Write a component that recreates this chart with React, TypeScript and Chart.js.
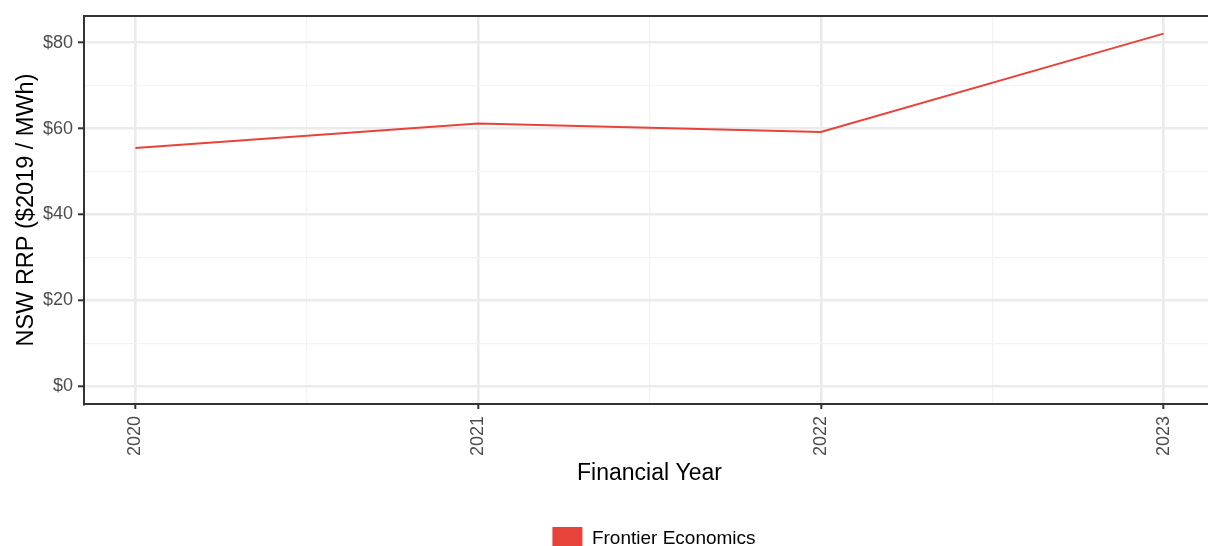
import React, { useEffect, useRef } from "react";
import { Chart, registerables } from "chart.js";

Chart.register(...registerables);

const years = [2020, 2021, 2022, 2023];
const prices = [55.5, 61.2, 59.2, 82.1];
const yTickValues = [0, 10, 20, 30, 40, 50, 60, 70, 80];
const seriesLabel = "Frontier Economics";
const xTitle = "Financial Year";
const yTitle = "NSW RRP ($2019 / MWh)";

const RED = "#E8433A";
const GRID_MAJOR = "#EBEBEB";
const GRID_MINOR = "#F3F3F3";
const DARK = "#333333";
const TICK_TEXT = "#4D4D4D";

const frameTop = {
  id: "frameTop",
  afterDatasetsDraw(chart: any) {
    const { ctx, chartArea } = chart;
    ctx.save();
    ctx.strokeStyle = DARK;
    ctx.lineWidth = 2;
    ctx.beginPath();
    ctx.moveTo(chartArea.left - 1, chartArea.top);
    ctx.lineTo(chartArea.right + 1, chartArea.top);
    ctx.moveTo(chartArea.right, chartArea.top);
    ctx.lineTo(chartArea.right, chartArea.bottom);
    ctx.stroke();
    ctx.restore();
  },
};

export default function App() {
  const ref = useRef<HTMLCanvasElement | null>(null);

  useEffect(() => {
    if (!ref.current) return;
    Chart.defaults.font.family = "'Liberation Sans', Arial, sans-serif";
    const xTicks: number[] = [];
    years.forEach((y, i) => {
      xTicks.push(y);
      if (i < years.length - 1) xTicks.push((y + years[i + 1]) / 2);
    });
    const chart = new Chart(ref.current, {
      type: "line",
      data: {
        datasets: [
          {
            label: seriesLabel,
            data: years.map((y, i) => ({ x: y, y: prices[i] })),
            borderColor: RED,
            backgroundColor: RED,
            borderWidth: 2,
            pointRadius: 0,
            tension: 0,
          },
        ],
      },
      options: {
        responsive: false,
        animation: false,
        devicePixelRatio: 1,
        layout: { padding: { top: 16, left: 0, right: 0, bottom: 0 } },
        plugins: {
          tooltip: { enabled: false },
          legend: {
            position: "bottom",
            labels: {
              boxWidth: 30,
              boxHeight: 24,
              color: "#000000",
              font: { size: 19 },
              padding: 10,
              generateLabels: (c: any) =>
                Chart.defaults.plugins.legend.labels
                  .generateLabels(c)
                  .map((l: any) => ({ ...l, lineWidth: 0, fillStyle: RED })),
            },
          },
        },
        scales: {
          x: {
            type: "linear",
            min: 2019.85,
            max: 2023.15,
            afterBuildTicks: (s: any) => {
              s.ticks = xTicks.map((v) => ({ value: v }));
            },
            afterFit: (s: any) => {
              s.height = 113;
            },
            ticks: {
              autoSkip: false,
              minRotation: 90,
              maxRotation: 90,
              padding: 7,
              color: TICK_TEXT,
              font: { size: 18 },
              callback: (v: any) => (Number.isInteger(v) ? String(v) : ""),
            },
            grid: {
              color: (c: any) => (Number.isInteger(c.tick?.value) ? GRID_MAJOR : GRID_MINOR),
              lineWidth: (c: any) => (Number.isInteger(c.tick?.value) ? 2.6 : 1.3),
              tickLength: 5,
              tickColor: (c: any) => (Number.isInteger(c.tick?.value) ? DARK : "rgba(0,0,0,0)"),
              tickWidth: 2,
            },
            border: { display: true, color: DARK, width: 2 },
            title: {
              display: true,
              text: xTitle,
              color: "#000000",
              font: { size: 23 },
              padding: { top: 0, bottom: 30 },
            },
          },
          y: {
            type: "linear",
            min: -4.1,
            max: 86.2,
            afterBuildTicks: (s: any) => {
              s.ticks = yTickValues.map((v) => ({ value: v }));
            },
            afterFit: (s: any) => {
              s.width = 84;
            },
            ticks: {
              padding: 5,
              color: TICK_TEXT,
              font: { size: 18 },
              callback: (v: any) => (v % 20 === 0 ? "$" + v : ""),
            },
            grid: {
              color: (c: any) => (c.tick?.value % 20 === 0 ? GRID_MAJOR : GRID_MINOR),
              lineWidth: (c: any) => (c.tick?.value % 20 === 0 ? 2.6 : 1.3),
              tickLength: 6,
              tickColor: (c: any) => (c.tick?.value % 20 === 0 ? DARK : "rgba(0,0,0,0)"),
              tickWidth: 2,
            },
            border: { display: true, color: DARK, width: 2 },
            title: {
              display: true,
              text: yTitle,
              color: "#000000",
              font: { size: 23.5 },
              padding: { top: 12, bottom: 0 },
            },
          },
          yr: {
            type: "linear",
            position: "right",
            display: true,
            grid: { display: false, drawTicks: false },
            ticks: { display: false },
            border: { display: false },
            afterFit: (s: any) => {
              s.width = 93;
            },
          },
        },
      },
      plugins: [frameTop],
    } as any);
    return () => chart.destroy();
  }, []);

  return (
    <div
      style={{
        position: "absolute",
        left: 0,
        top: 0,
        width: 1208,
        height: 546,
        overflow: "hidden",
        background: "#ffffff",
      }}
    >
      <canvas ref={ref} width={1308} height={561} style={{ display: "block" }} />
    </div>
  );
}
